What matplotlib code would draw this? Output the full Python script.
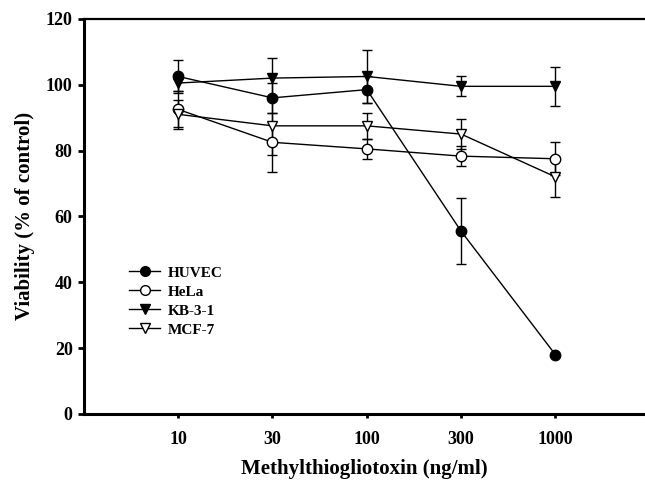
import matplotlib
matplotlib.use('Agg')
import matplotlib.pyplot as plt
from matplotlib.lines import Line2D

# dose categories (equally spaced on the x axis)
doses = ['10', '30', '100', '300', '1000']
pos = [1, 2, 3, 4, 5]

huvec = [102.5, 96.0, 98.5, 55.5, 18.0]
huvec_err = [5.0, 4.5, 4.0, 10.0, 0.0]
hela = [92.5, 82.5, 80.5, 78.3, 77.5]
hela_err = [5.5, 9.0, 3.0, 3.0, 5.0]
kb = [100.5, 102.0, 102.5, 99.5, 99.5]
kb_err = [2.5, 6.0, 8.0, 3.0, 6.0]
mcf = [91.0, 87.5, 87.5, 85.0, 72.0]
mcf_err = [4.5, 9.0, 4.0, 4.5, 6.0]

plt.rcParams['font.family'] = ['Liberation Serif', 'DejaVu Serif']
plt.rcParams['font.weight'] = 'bold'

fig = plt.figure(figsize=(6.45, 4.83), dpi=100)
ax = fig.add_axes([0.130, 0.143, 0.870, 0.818])

common = dict(color='black', lw=1.0, ms=7.5, capsize=3.5, elinewidth=1.0, capthick=1.0)
ax.errorbar(pos, huvec, yerr=huvec_err, marker='o', mfc='black', **common)
ax.errorbar(pos, hela, yerr=hela_err, marker='o', mfc='white', **common)
ax.errorbar(pos, kb, yerr=kb_err, marker='v', mfc='black', **common)
ax.errorbar(pos, mcf, yerr=mcf_err, marker='v', mfc='white', **common)

ax.set_xlim(0, 5.95)
ax.set_ylim(0, 120)
ax.set_xticks(pos)
ax.set_xticklabels(doses)
ax.set_yticks(range(0, 121, 20))

for s in ['left', 'bottom']:
    ax.spines[s].set_linewidth(2.2)
ax.spines['top'].set_linewidth(1.6)
ax.spines['right'].set_visible(False)
ax.tick_params(axis='y', direction='out', length=4, width=2, labelsize=13, pad=4)
ax.tick_params(axis='x', direction='out', length=3, width=2, labelsize=13, pad=9)

ax.set_xlabel('Methylthiogliotoxin (ng/ml)', fontsize=15, fontweight='bold', labelpad=8)
ax.set_ylabel('Viability (% of control)', fontsize=15, fontweight='bold', labelpad=8)

handles = [
    Line2D([], [], color='black', lw=1.0, marker='o', ms=7, mfc='black'),
    Line2D([], [], color='black', lw=1.0, marker='o', ms=7, mfc='white'),
    Line2D([], [], color='black', lw=1.0, marker='v', ms=7, mfc='black'),
    Line2D([], [], color='black', lw=1.0, marker='v', ms=7, mfc='white'),
]
labels = ['HUVEC', 'HeLa', 'KB-3-1', 'MCF-7']
leg = ax.legend(handles, labels, loc='lower left', bbox_to_anchor=(0.07, 0.18), frameon=False,
                fontsize=11, handlelength=2.0, handletextpad=0.5, labelspacing=0.35,
                borderaxespad=0)
for t in leg.get_texts():
    t.set_fontweight('bold')

fig.savefig('out.png', dpi=100)
